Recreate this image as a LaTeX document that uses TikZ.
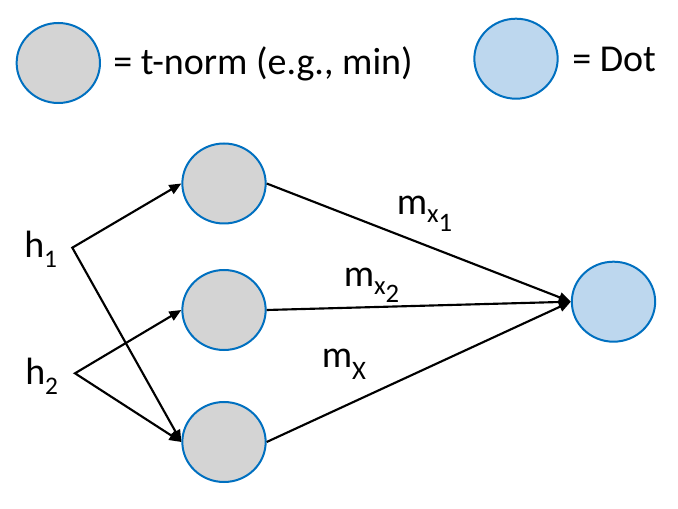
\documentclass[tikz,border=0pt]{standalone}
\usepackage{fontspec}
\setmainfont{Carlito}
\usetikzlibrary{shapes.geometric,arrows.meta}
\definecolor{circgray}{HTML}{D4D4D4}
\definecolor{circblue}{HTML}{BDD7EE}
\definecolor{edgeblue}{HTML}{0070C0}
\newcommand{\hsubtxt}[2]{\raisebox{-#1}{\fontsize{19}{19}\selectfont #2}}
\newcommand{\msubtxt}[2]{\raisebox{-#1}{\fontsize{20}{20}\selectfont #2}}
\begin{document}
\begin{tikzpicture}[x=0.75pt,y=-0.75pt,
  circnode/.style={ellipse, draw=edgeblue, line width=1.5pt, minimum width=62.5pt, minimum height=60pt, inner sep=0pt},
  gnode/.style={circnode, fill=circgray},
  bnode/.style={circnode, fill=circblue},
  lbl/.style={font=\fontsize{28.5}{34}\selectfont, inner sep=0pt, anchor=base west},
  arr/.style={line width=1.6pt, draw=black, {Triangle[length=9pt,width=7.5pt]}-{Triangle[length=9pt,width=7.5pt]}},
  arrone/.style={line width=1.6pt, draw=black, -{Triangle[length=9pt,width=7.5pt]}}]
\useasboundingbox (0,0) rectangle (678,509);
% legend
\node[gnode] (lg) at (58.3,63) {};
\node[lbl] (lgt) at (113,75) {= t-norm (e.g., min)};
\node[bnode] (lb) at (516,58.7) {};
\node[lbl] (lbt) at (572,72) {= Dot};
% main nodes
\node[gnode] (top) at (224,183.5) {};
\node[gnode] (mid) at (224,310) {};
\node[gnode] (bot) at (224,442) {};
\node[bnode] (dot) at (613.5,301.7) {};
% inputs
\node[lbl] (h1) at (24,258) {h\hsubtxt{7.5pt}{1}};
\node[lbl] (h2) at (25,385) {h\hsubtxt{7.5pt}{2}};
\coordinate (h1p) at (72.3,247.7);
\coordinate (h2p) at (75,373.3);
\draw[arr] (top.west) -- (h1p) -- (bot.west);
\draw[arr] (mid.west) -- (h2p) -- (bot.west);
% to dot
\draw[arrone] (top.east) -- (dot.west);
\draw[arrone] (mid.east) -- (dot.west);
\draw[arrone] (bot.east) -- (dot.west);
% edge labels
\node[lbl] (m1) at (396.5,215) {m\msubtxt{6pt}{x\msubtxt{6.75pt}{1}}};
\node[lbl] (m2) at (343.5,287) {m\msubtxt{6pt}{x\msubtxt{6pt}{2}}};
\node[lbl] (m3) at (321.5,368) {m\msubtxt{9pt}{X}};
\end{tikzpicture}
\end{document}
